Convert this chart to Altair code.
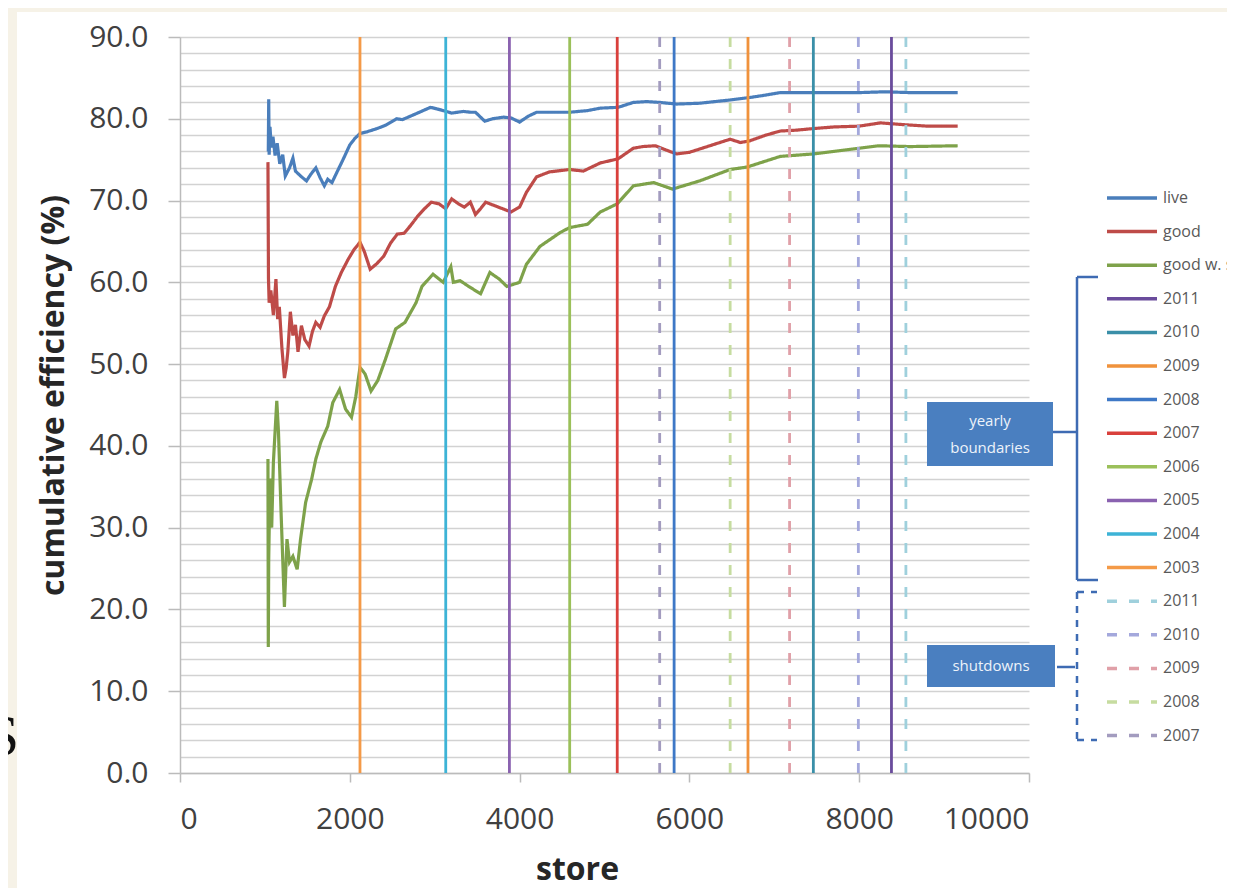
import altair as alt
import pandas as pd

# ---------------- data ----------------
live_store = [1040, 1045, 1050, 1060, 1075, 1095, 1120, 1145, 1175, 1210, 1240, 1290, 1330, 1360, 1420,
              1490, 1540, 1600, 1650, 1700, 1740, 1790, 1850, 1920, 2000, 2060, 2120, 2200, 2320, 2420,
              2550, 2620, 2710, 2820, 2950, 3030, 3100, 3200, 3340, 3420, 3480, 3540, 3590, 3680, 3810,
              3900, 4000, 4100, 4200, 4400, 4590, 4800, 4950, 5160, 5340, 5500, 5650, 5850, 6120, 6300,
              6480, 6710, 6900, 7070, 7250, 7460, 7700, 8000, 8300, 8600, 8900, 9160]
live_eff = [76.0, 82.4, 75.6, 79.0, 76.5, 77.8, 75.5, 77.0, 74.5, 75.6, 73.0, 74.0, 75.2, 73.6, 73.0,
            72.4, 73.2, 74.0, 72.8, 71.8, 72.6, 72.2, 73.5, 75.0, 76.8, 77.6, 78.2, 78.4, 78.8, 79.2,
            80.0, 79.9, 80.3, 80.8, 81.4, 81.2, 81.0, 80.7, 80.9, 80.8, 80.8, 80.2, 79.7, 80.0, 80.2,
            80.1, 79.6, 80.3, 80.8, 80.8, 80.8, 81.0, 81.3, 81.4, 82.0, 82.1, 82.0, 81.8, 81.9, 82.1,
            82.3, 82.6, 82.9, 83.2, 83.2, 83.2, 83.2, 83.2, 83.3, 83.2, 83.2, 83.2]

good_store = [1036, 1042, 1050, 1070, 1100, 1130, 1150, 1170, 1200, 1230, 1250, 1270, 1300, 1330, 1360,
              1390, 1430, 1470, 1520, 1560, 1600, 1650, 1700, 1760, 1830, 1900, 1980, 2050, 2120, 2170,
              2240, 2320, 2400, 2480, 2560, 2640, 2720, 2800, 2880, 2960, 3050, 3130, 3200, 3280, 3350,
              3420, 3480, 3540, 3600, 3700, 3800, 3900, 4000, 4080, 4200, 4350, 4590, 4750, 4950, 5160,
              5340, 5450, 5600, 5720, 5850, 6000, 6120, 6300, 6480, 6600, 6710, 6900, 7070, 7250, 7460,
              7700, 8000, 8250, 8500, 8800, 9160]
good_eff = [74.7, 60.5, 57.5, 59.0, 56.0, 60.4, 55.5, 57.0, 52.0, 48.3, 49.5, 51.5, 56.4, 53.5, 54.8,
            51.5, 54.7, 53.0, 52.2, 54.0, 55.1, 54.5, 55.9, 57.0, 59.5, 61.2, 62.8, 64.0, 64.9, 63.8,
            61.6, 62.3, 63.2, 64.8, 65.9, 66.0, 67.0, 68.1, 69.0, 69.8, 69.6, 69.0, 70.2, 69.6, 69.2,
            69.8, 68.3, 69.0, 69.8, 69.4, 69.0, 68.6, 69.2, 71.0, 72.9, 73.5, 73.8, 73.6, 74.6, 75.1,
            76.4, 76.6, 76.7, 76.2, 75.7, 75.9, 76.3, 76.9, 77.5, 77.1, 77.3, 78.0, 78.5, 78.6, 78.8,
            79.0, 79.1, 79.5, 79.3, 79.1, 79.1]

sw_store = [1036, 1040, 1045, 1060, 1080, 1100, 1140, 1160, 1190, 1230, 1260, 1290, 1330, 1380, 1420,
            1480, 1550, 1600, 1660, 1740, 1800, 1880, 1950, 2020, 2070, 2120, 2180, 2250, 2330, 2420,
            2540, 2650, 2780, 2850, 2980, 3100, 3190, 3220, 3300, 3400, 3540, 3650, 3760, 3850, 4000,
            4080, 4240, 4480, 4590, 4800, 4950, 5150, 5340, 5580, 5800, 6120, 6480, 6680, 7070, 7460,
            8000, 8230, 8600, 9160]
sw_eff = [38.4, 15.4, 26.2, 36.0, 30.0, 38.0, 45.5, 41.7, 32.0, 20.3, 28.6, 25.8, 26.5, 24.9, 28.6,
          33.1, 35.9, 38.4, 40.5, 42.4, 45.3, 46.9, 44.5, 43.5, 46.0, 49.6, 48.8, 46.7, 48.0, 50.6,
          54.3, 55.1, 57.5, 59.5, 61.0, 60.0, 61.9, 60.0, 60.2, 59.5, 58.6, 61.2, 60.4, 59.5, 60.0,
          62.2, 64.4, 66.1, 66.7, 67.1, 68.6, 69.6, 71.8, 72.2, 71.4, 72.4, 73.8, 74.1, 75.4, 75.7,
          76.4, 76.7, 76.6, 76.7]

boundary_years = ["2011", "2010", "2009", "2008", "2007", "2006", "2005", "2004", "2003"]
boundary_store = [8380, 7460, 6690, 5820, 5150, 4590, 3880, 3130, 2120]
shutdown_years = ["2011", "2010", "2009", "2008", "2007"]
shutdown_store = [8550, 7990, 7180, 6480, 5650]

series_names = ["live", "good", "good w. sw"]
series_domain = series_names + boundary_years + [y + "|s" for y in shutdown_years]
series_colors = ["#4a7ebb", "#be4b48", "#7ea24a",
                 "#6a4c9c", "#3a8fa8", "#f0923c", "#3e78c6", "#d9403c", "#9bc05a", "#8a62b0", "#3db3d6", "#f49a48",
                 "#9fd0dc", "#a4a8dc", "#e0a0a8", "#c6dca0", "#a39cbf"]
series_dash = [[1, 0]] * 12 + [[10, 12]] * 5

x_ticks = [0, 2000, 4000, 6000, 8000, 10000]
y_grid = list(range(0, 91, 2))

# ---------------- tables ----------------
lines_df = pd.concat([
    pd.DataFrame({"store": live_store, "eff": live_eff, "series": "live", "order": range(len(live_store))}),
    pd.DataFrame({"store": good_store, "eff": good_eff, "series": "good", "order": range(len(good_store))}),
    pd.DataFrame({"store": sw_store, "eff": sw_eff, "series": "good w. sw", "order": range(len(sw_store))}),
])
rules_df = pd.DataFrame({
    "store": boundary_store + shutdown_store,
    "series": boundary_years + [y + "|s" for y in shutdown_years],
})

FONT = "Open Sans"
BEIGE = "#f6f2e7"

legend = alt.Legend(
    orient="none", legendX=925, legendY=153, title=None,
    labelExpr="split(datum.label, '|')[0]",
    symbolType="stroke", symbolSize=2500, symbolStrokeWidth=3.5,
    labelFont=FONT, labelFontSize=16, labelColor="#595959",
    clipHeight=16, rowPadding=17.6, labelOffset=4, padding=0, symbolOffset=0,
)

color = alt.Color("series:N", scale=alt.Scale(domain=series_domain, range=series_colors), legend=legend)
dash = alt.StrokeDash("series:N", scale=alt.Scale(domain=series_domain, range=series_dash), legend=legend)

x_enc = alt.X("store:Q", scale=alt.Scale(domain=[0, 10000], nice=False),
              axis=alt.Axis(values=x_ticks, grid=False, title="store", format="d",
                            labelFont=FONT, labelFontSize=30, labelColor="#404040", labelPadding=22,
                            tickSize=9, tickColor="#bbbbbb", tickWidth=1.5,
                            domainColor="#bbbbbb", domainWidth=1.5,
                            titleFont=FONT, titleFontSize=32, titleFontWeight="bold", titleColor="#262626",
                            titleX=397, titleY=106, titleBaseline="alphabetic", titleAlign="center"))

y_enc = alt.Y("eff:Q", scale=alt.Scale(domain=[0, 90], nice=False),
              axis=alt.Axis(values=y_grid, grid=True, gridColor="#d2d2d2", gridWidth=1.5,
                            labelExpr="datum.value % 10 === 0 ? format(datum.value, '.1f') : ''",
                            labelOverlap=False, labelFont=FONT, labelFontSize=30, labelColor="#404040",
                            labelPadding=20, tickSize=12, tickColor="#bbbbbb", tickWidth=1.5,
                            tickOpacity={"condition": {"test": "datum.value % 10 === 0", "value": 1}, "value": 0},
                            domainColor="#bbbbbb", domainWidth=1.5,
                            title="cumulative efficiency (%)", titleFont=FONT, titleFontSize=32,
                            titleFontWeight="bold", titleColor="#262626",
                            titleX=-117, titleY=358, titleBaseline="alphabetic", titleAngle=270))

one = pd.DataFrame({"a": [0]})

# beige strips of the slide around the white panel
strip_top = alt.Chart(one).mark_rect(color=BEIGE).encode(
    x=alt.value(-172), x2=alt.value(1047), y=alt.value(-29), y2=alt.value(-25))
strip_left = alt.Chart(one).mark_rect(color=BEIGE).encode(
    x=alt.value(-172), x2=alt.value(-163), y=alt.value(-29), y2=alt.value(851))

s_text = alt.Chart(one).mark_text(text="S", font="Liberation Serif", fontSize=58, align="right",
                                   baseline="alphabetic", color="#111111").encode(
    x=alt.value(-161), y=alt.value(718))

lines = alt.Chart(lines_df).mark_line(strokeWidth=3.2).encode(
    x=x_enc, y=y_enc, color=color, strokeDash=dash, order="order:Q")

rules = alt.Chart(rules_df).mark_rule(strokeWidth=2.8).encode(
    x="store:Q", color=color, strokeDash=dash)

BOX = "#4a7fc0"
BRK = "#3e6bb3"


def seg(x1, y1, x2, y2, dashed=False):
    kw = {"strokeDash": [7, 7]} if dashed else {}
    return alt.Chart(one).mark_rule(color=BRK, strokeWidth=2.5, **kw).encode(
        x=alt.value(x1), y=alt.value(y1), x2=alt.value(x2), y2=alt.value(y2))


box1 = alt.Chart(one).mark_rect(color=BOX).encode(
    x=alt.value(747), x2=alt.value(873), y=alt.value(365), y2=alt.value(429))
box1_t1 = alt.Chart(one).mark_text(text="yearly", font=FONT, fontSize=15, color="#eef3fa").encode(
    x=alt.value(810), y=alt.value(384))
box1_t2 = alt.Chart(one).mark_text(text="boundaries", font=FONT, fontSize=15, color="#eef3fa").encode(
    x=alt.value(810), y=alt.value(411))
box2 = alt.Chart(one).mark_rect(color=BOX).encode(
    x=alt.value(747), x2=alt.value(875), y=alt.value(608), y2=alt.value(650))
box2_t = alt.Chart(one).mark_text(text="shutdowns", font=FONT, fontSize=15, color="#eef3fa").encode(
    x=alt.value(811), y=alt.value(629))

brackets = [
    seg(897, 240, 897, 543), seg(897, 240, 918, 240), seg(897, 543, 918, 543), seg(873, 395, 897, 395),
    seg(897, 555, 897, 703, True), seg(897, 555, 917, 555, True), seg(897, 703, 917, 703, True),
    seg(877, 630, 895, 630),
]

chart = alt.layer(
    lines, rules, strip_top, strip_left, s_text, box1, box1_t1, box1_t2, box2, box2_t, *brackets
).properties(
    width=849, height=736,
    padding={"left": 172, "top": 29, "right": 198, "bottom": 115},
    autosize=alt.AutoSizeParams(type="none"),
).configure(background="white").configure_view(stroke=None)

chart.save("out.html", embed_options={"renderer": "svg", "actions": False})
